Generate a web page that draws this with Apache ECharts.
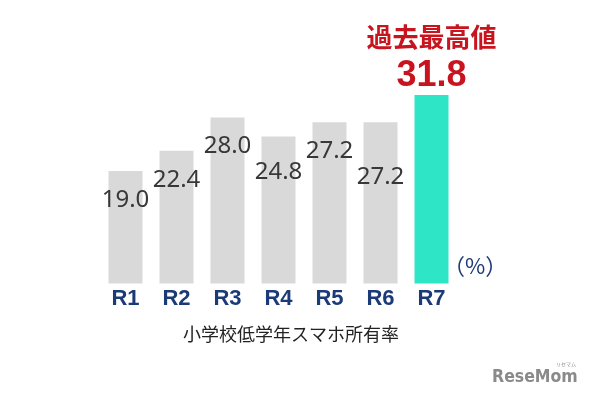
<!DOCTYPE html>
<html><head><meta charset="utf-8">
<script src="https://cdn.jsdelivr.net/npm/echarts@6/dist/echarts.min.js"></script>
<style>html,body{margin:0;padding:0;background:#fff}#c{width:610px;height:400px}</style>
</head><body><div id="c"></div>
<script>
const categories = ['R1','R2','R3','R4','R5','R6','R7'];
const values = [19.0, 22.4, 28.0, 24.8, 27.2, 27.2, 31.8];
const recordText = '過去最高値';
const unitText = '（%）';
const captionText = '小学校低学年スマホ所有率';
const logoText = 'ReseMom';
const logoKana = 'リセマム';

// label vertical tweaks (style only)
const labelExtraDrop = [0, 0, 0, 7, 0, 26, 0];

const chart = echarts.init(document.getElementById('c'));
const last = values.length - 1;
const data = values.map((v, i) => {
  if (i === last) {
    return {
      value: v,
      itemStyle: { color: '#2ee5c5' },
      label: {
        show: true, position: 'top', distance: -3,
        formatter: p => '{a|' + recordText + '}\n{b|' + p.value.toFixed(1) + '}',
        rich: {
          a: { fontSize: 26, fontWeight: 'bold', color: '#c8141e', fontFamily: 'Noto Sans CJK JP', lineHeight: 34 },
          b: { fontSize: 36, fontWeight: 'bold', color: '#c8141e', fontFamily: 'Liberation Sans', lineHeight: 44 }
        }
      }
    };
  }
  return {
    value: v,
    label: { offset: [0, labelExtraDrop[i]] }
  };
});

chart.setOption({
  animation: false,
  grid: { left: 100, right: 153, top: 46.5, bottom: 116.5 },
  xAxis: {
    type: 'category', data: categories,
    axisLine: { show: false }, axisTick: { show: false },
    axisLabel: { color: '#1b3a78', fontSize: 22, fontWeight: 'bold', fontFamily: 'Liberation Sans', margin: 4 }
  },
  yAxis: { type: 'value', min: 0, max: 40, show: false, splitLine: { show: false } },
  series: [{
    type: 'bar', data: data, barWidth: 34,
    itemStyle: { color: '#d9d9d9' },
    label: {
      show: true, position: 'insideTop', distance: 17,
      formatter: p => p.value.toFixed(1),
      fontSize: 24, color: '#383838', fontFamily: 'Noto Sans'
    }
  }],
  graphic: [
    { type: 'text', left: 443, top: 255, style: { text: unitText, fontSize: 22, fill: '#1b3a78', fontFamily: 'Noto Sans CJK JP' } },
    { type: 'text', left: 183, top: 325, style: { text: captionText, fontSize: 18, fill: '#222', fontFamily: 'Noto Sans CJK JP' } },
    { type: 'text', left: 492, top: 368, style: { text: logoText, fontSize: 17.5, fontWeight: 'bold', fill: '#8a8a8a', fontFamily: 'DejaVu Sans Condensed' } },
    { type: 'text', left: 556, top: 362, style: { text: logoKana, fontSize: 5, fill: '#8a8a8a', fontFamily: 'Noto Sans CJK JP' } }
  ]
});
</script></body></html>
